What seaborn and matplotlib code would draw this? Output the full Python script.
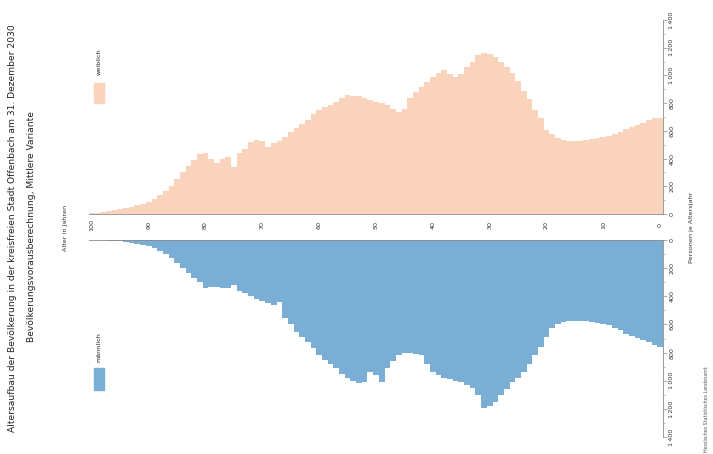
import pandas as pd
import seaborn as sns
from matplotlib import pyplot as plt
from matplotlib.patches import Rectangle
from matplotlib.ticker import MultipleLocator, FixedLocator

# === DATA (persons per age year, ages 0..100)
ages = list(range(0, 101))

weiblich = [695, 690, 675, 660, 645, 630, 615, 595, 580, 565,
            555, 545, 540, 535, 530, 525, 525, 535, 550, 575,
            605, 690, 750, 830, 890, 960, 1020, 1060, 1100, 1130,
            1155, 1165, 1145, 1100, 1060, 1010, 990, 1010, 1040, 1020,
            990, 950, 915, 880, 840, 760, 735, 760, 785, 800,
            805, 820, 840, 850, 855, 860, 840, 810, 790, 770,
            750, 720, 680, 650, 620, 590, 555, 525, 510, 485,
            530, 535, 520, 470, 440, 340, 410, 400, 370, 400,
            440, 430, 390, 350, 305, 250, 200, 165, 137, 110,
            88, 75, 62, 50, 43, 35, 28, 20, 14, 10, 8]

maennlich = [760, 745, 725, 710, 695, 680, 665, 640, 625, 605,
             595, 589, 583, 578, 575, 575, 578, 582, 600, 625,
             690, 760, 820, 880, 937, 980, 1010, 1060, 1100, 1150,
             1180, 1195, 1100, 1050, 1030, 1010, 1005, 990, 980, 960,
             937, 880, 817, 810, 802, 805, 817, 860, 909, 1008,
             958, 937, 1010, 1015, 1000, 980, 950, 909, 880, 850,
             817, 770, 724, 690, 653, 600, 554, 440, 462, 445,
             430, 420, 400, 380, 360, 320, 341, 340, 334, 335,
             341, 300, 270, 235, 199, 160, 128, 100, 75, 57,
             45, 38, 30, 22, 14, 10, 7, 5, 3, 2, 2]

age_ticks = list(range(100, -1, -10))
person_ticks = list(range(0, 1401, 200))
person_labels = ['{:,}'.format(v).replace(',', '\u2009') for v in person_ticks]

title_1 = ('Altersaufbau der Bevölkerung in der kreisfreien Stadt Offenbach '
           'am 31. Dezember 2030')
title_2 = 'Bevölkerungsvorausberechnung, Mittlere Variante'

df = pd.DataFrame({'Alter': ages, 'weiblich': weiblich, 'männlich': maennlich})

col_w = '#F9D3BC'
col_m = '#7AAED4'
col_axis = '#8C8C8C'
fs = 4.6

# === FIGURE
sns.set_style('white')
plt.rcParams['font.family'] = ['DejaVu Sans']

W, H = 713, 454
fig = plt.figure(figsize=(W / 100, H / 100), dpi=100)
ax_w = fig.add_axes([89 / W, 1 - 214 / H, 574 / W, 194 / H])
ax_m = fig.add_axes([89 / W, 1 - 437 / H, 574 / W, 197 / H])

sns.barplot(data=df, x='Alter', y='weiblich', native_scale=True, width=1,
            color=col_w, saturation=1, linewidth=0, ax=ax_w)
sns.barplot(data=df, x='Alter', y='männlich', native_scale=True, width=1,
            color=col_m, saturation=1, linewidth=0, ax=ax_m)

for ax in (ax_w, ax_m):
    ax.set_xlim(100.5, -0.5)
    ax.set_xlabel('')
    ax.set_ylabel('')
    ax.yaxis.tick_right()
    ax.yaxis.set_major_locator(FixedLocator(person_ticks))
    ax.yaxis.set_minor_locator(MultipleLocator(100))
    ax.set_yticklabels(person_labels, rotation=90, fontsize=fs, color='#333333')
    ax.tick_params(axis='y', which='major', length=3, width=0.5, pad=1.5,
                   color=col_axis, right=True, left=False)
    ax.tick_params(axis='y', which='minor', length=1.5, width=0.4,
                   color=col_axis, right=True, left=False)
    ax.spines['left'].set_visible(False)
    ax.spines['right'].set_color(col_axis)
    ax.spines['right'].set_linewidth(0.6)
    for lab in ax.get_yticklabels():
        lab.set_va('center')

ax_w.set_ylim(0, 1400)
ax_m.set_ylim(1400, 0)

ax_w.spines['top'].set_visible(False)
ax_w.spines['bottom'].set_color(col_axis)
ax_w.spines['bottom'].set_linewidth(0.6)
ax_m.spines['bottom'].set_visible(False)
ax_m.spines['top'].set_color(col_axis)
ax_m.spines['top'].set_linewidth(0.6)

# age labels between the two halves
ax_w.set_xticks(age_ticks)
ax_w.set_xticklabels([str(a) for a in age_ticks], rotation=90, fontsize=fs,
                     color='#333333')
ax_w.tick_params(axis='x', length=0, pad=8, labelbottom=True)
for lab in ax_w.get_xticklabels():
    lab.set_va('center')
ax_m.set_xticks([])

# texts
fig.text(13 / W, 1 - 228 / H, title_1, rotation=90, ha='center', va='center',
         fontsize=6.6, color='#222222')
fig.text(32 / W, 1 - 227 / H, title_2, rotation=90, ha='center', va='center',
         fontsize=6.6, color='#222222')
fig.text(65 / W, 1 - 228 / H, 'Alter in Jahren', rotation=90, ha='center',
         va='center', fontsize=fs, color='#333333')
fig.text(692 / W, 1 - 227 / H, 'Personen je Altersjahr', rotation=90,
         ha='center', va='center', fontsize=fs, color='#333333')
fig.text(707 / W, 1 - 452 / H, 'Hessisches Statistisches Landesamt',
         rotation=90, ha='center', va='bottom', fontsize=3.4, color='#555555')

# legend
fig.text(99 / W, 1 - 62 / H, 'weiblich', rotation=90, ha='center',
         va='center', fontsize=fs, color='#222222')
fig.patches.append(Rectangle((94 / W, 1 - 103 / H), 10 / W, 20 / H,
                             transform=fig.transFigure, color=col_w))
fig.text(99 / W, 1 - 347 / H, 'männlich', rotation=90, ha='center',
         va='center', fontsize=fs, color='#222222')
fig.patches.append(Rectangle((94 / W, 1 - 390 / H), 10 / W, 22 / H,
                             transform=fig.transFigure, color=col_m))

plt.savefig('out.png', dpi=100)
